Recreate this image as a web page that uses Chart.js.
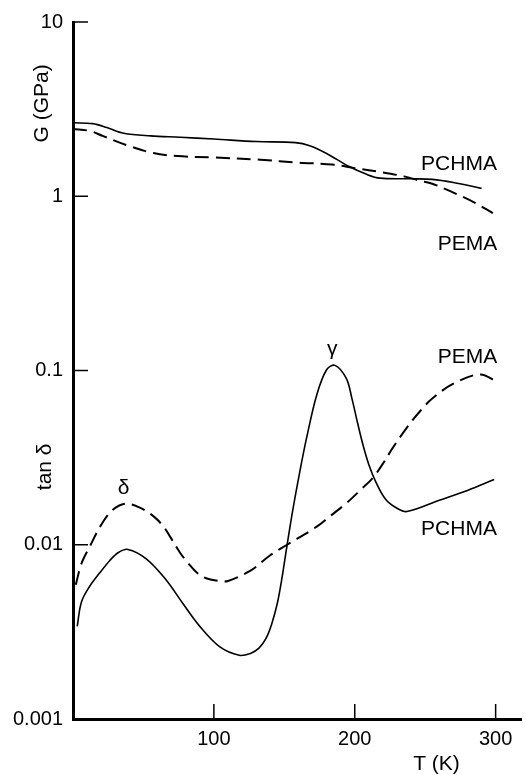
<!DOCTYPE html>
<html>
<head>
<meta charset="utf-8">
<script src="https://cdn.jsdelivr.net/npm/chart.js@4/dist/chart.umd.min.js"></script>
<style>
html,body{margin:0;padding:0;background:#fff;}
#c{display:block;}
</style>
</head>
<body>
<canvas id="c" width="525" height="775"></canvas>
<script>
// ---- data ----
const xTicks = [100, 200, 300];
const yTicks = [0.001, 0.01, 0.1, 1, 10];
const yTickLabels = ['0.001', '0.01', '0.1', '1', '10'];

const T_G_PCHMA = [0,14,24,36,55,76,100,130,158,168,180,196,208,218,240,255,270,290];
const G_PCHMA   = [2.64,2.61,2.48,2.30,2.22,2.18,2.13,2.06,2.03,1.95,1.76,1.48,1.34,1.27,1.26,1.25,1.20,1.11];

const T_G_PEMA = [0,12,21,40,57,74,100,133,160,184,200,220,235,246,255,270,285,298];
const G_PEMA   = [2.43,2.37,2.22,1.94,1.77,1.70,1.67,1.62,1.56,1.52,1.45,1.37,1.30,1.23,1.18,1.05,0.92,0.80];

const T_TAN_PCHMA = [3,6,12,19,26,32,39,52,66,78,90,104,118,126,132,137,141,145,148,152,156,161,166,173,180,186,194,198,202,206,210,215,222,230,237,260,280,299];
const TAN_PCHMA   = [0.0034,0.0047,0.0058,0.0069,0.0081,0.0090,0.0094,0.0083,0.0063,0.0046,0.0034,0.0026,0.00232,0.00238,0.00255,0.0029,0.0035,0.0046,0.0062,0.0100,0.0158,0.0263,0.0417,0.0724,0.101,0.107,0.090,0.069,0.050,0.037,0.0288,0.0229,0.0182,0.0162,0.0155,0.018,0.0205,0.0237];

const T_TAN_PEMA = [2,6,12,20,28,37,47,57,64,69,76,82,88,95,104,110,126,140,152,173,182,194,204,213,220,227,237,246,255,270,289,301];
const TAN_PEMA   = [0.0059,0.0078,0.0098,0.013,0.0158,0.0172,0.0164,0.0146,0.0128,0.0111,0.0090,0.0078,0.0069,0.0064,0.0062,0.0062,0.0071,0.0087,0.0100,0.0127,0.0145,0.0173,0.0206,0.0243,0.0292,0.036,0.047,0.058,0.069,0.084,0.095,0.086];

// text annotations (data coordinates)
const curveLabels = [
  {text:'PCHMA', x:274, y:1.53},
  {text:'PEMA',  x:280, y:0.53},
  {text:'PEMA',  x:280, y:0.119},
  {text:'PCHMA', x:274, y:0.01225},
  {text:'\u03b3',  x:184, y:0.132},
  {text:'\u03b4',  x:36,  y:0.021}
];

const FONT = '"Liberation Sans", Arial, Helvetica, sans-serif';

function pts(xs, ys){ return xs.map((x,i)=>({x:x, y:ys[i]})); }

const lineBase = {borderColor:'#000', pointRadius:0, fill:false, cubicInterpolationMode:'default', tension:0.35};

const decor = {
  id:'decor',
  afterDraw(chart){
    const ctx = chart.ctx, ca = chart.chartArea;
    const xs = chart.scales.x, ys = chart.scales.y;
    ctx.save();
    ctx.strokeStyle = '#000';
    ctx.lineWidth = 1.5;
    // inward ticks
    yTicks.forEach(v=>{
      const py = ys.getPixelForValue(v);
      ctx.beginPath(); ctx.moveTo(ca.left, py); ctx.lineTo(ca.left+15, py); ctx.stroke();
    });
    xTicks.forEach(v=>{
      const px = xs.getPixelForValue(v);
      ctx.beginPath(); ctx.moveTo(px, ca.bottom); ctx.lineTo(px, ca.bottom-15); ctx.stroke();
    });
    // curve labels
    ctx.fillStyle = '#000';
    ctx.textAlign = 'center';
    ctx.textBaseline = 'middle';
    ctx.font = '21px ' + FONT;
    curveLabels.forEach(l=>{
      ctx.fillText(l.text, xs.getPixelForValue(l.x), ys.getPixelForValue(l.y));
    });
    // axis titles
    ctx.font = '21px ' + FONT;
    ctx.fillText('T (K)', xs.getPixelForValue(258), ca.bottom + 45);
    const rot = (t, x, y)=>{
      ctx.save(); ctx.translate(x, y); ctx.rotate(-Math.PI/2); ctx.fillText(t, 0, 0); ctx.restore();
    };
    rot('G (GPa)', ca.left - 31, ys.getPixelForValue(3.41));
    rot('tan \u03b4', ca.left - 28, ys.getPixelForValue(0.028));
    ctx.restore();
  }
};

new Chart(document.getElementById('c'), {
  type:'line',
  data:{
    datasets:[
      Object.assign({label:'G PCHMA', data:pts(T_G_PCHMA, G_PCHMA), borderWidth:1.6}, lineBase),
      Object.assign({label:'G PEMA', data:pts(T_G_PEMA, G_PEMA), borderWidth:2, borderDash:[14,7]}, lineBase),
      Object.assign({label:'tan PCHMA', data:pts(T_TAN_PCHMA, TAN_PCHMA), borderWidth:1.6}, lineBase),
      Object.assign({label:'tan PEMA', data:pts(T_TAN_PEMA, TAN_PEMA), borderWidth:2, borderDash:[14,7]}, lineBase)
    ]
  },
  options:{
    responsive:false,
    animation:false,
    devicePixelRatio:1,
    layout:{padding:{top:17, right:4, left:0, bottom:0}},
    plugins:{legend:{display:false}, tooltip:{enabled:false}},
    scales:{
      x:{
        type:'linear', min:0, max:318,
        afterBuildTicks(s){ s.ticks = xTicks.map(v=>({value:v})); },
        afterFit(s){ s.height = 56; },
        border:{display:true, color:'#000', width:3},
        grid:{display:true, drawOnChartArea:false, drawTicks:false, color:'rgba(0,0,0,0)'},
        ticks:{color:'#000', font:{family:FONT, size:20}, padding:8, maxRotation:0, autoSkip:false}
      },
      y:{
        type:'logarithmic', min:0.001, max:10,
        afterBuildTicks(s){ s.ticks = yTicks.map(v=>({value:v})); },
        afterFit(s){ s.width = 73; },
        border:{display:true, color:'#000', width:3},
        grid:{display:true, drawOnChartArea:false, drawTicks:false, color:'rgba(0,0,0,0)'},
        ticks:{color:'#000', font:{family:FONT, size:20}, padding:10, autoSkip:false,
          callback(v){ const i = yTicks.findIndex(t=>Math.abs(t-v)/t<1e-6); return i>=0 ? yTickLabels[i] : ''; }}
      }
    }
  },
  plugins:[decor]
});
</script>
</body>
</html>
